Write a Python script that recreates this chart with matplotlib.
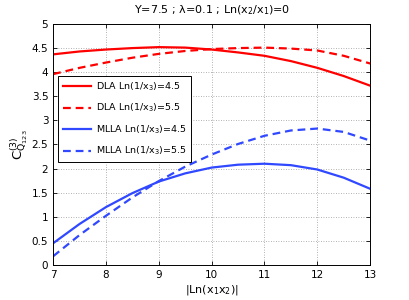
import matplotlib
matplotlib.use("Agg")
import matplotlib.pyplot as plt

x = [7, 7.5, 8, 8.5, 9, 9.5, 10, 10.5, 11, 11.5, 12, 12.5, 13]
dla_45 = [4.37, 4.43, 4.47, 4.50, 4.52, 4.51, 4.47, 4.41, 4.34, 4.23, 4.09, 3.92, 3.72]
dla_55 = [3.96, 4.09, 4.20, 4.30, 4.38, 4.44, 4.48, 4.50, 4.51, 4.49, 4.45, 4.34, 4.18]
mlla_45 = [0.45, 0.85, 1.20, 1.49, 1.73, 1.90, 2.02, 2.08, 2.10, 2.07, 1.98, 1.81, 1.58]
mlla_55 = [0.18, 0.62, 1.02, 1.40, 1.74, 2.04, 2.29, 2.51, 2.68, 2.79, 2.83, 2.76, 2.58]

labels = ["DLA Ln(1/x$_3$)=4.5", "DLA Ln(1/x$_3$)=5.5",
          "MLLA Ln(1/x$_3$)=4.5", "MLLA Ln(1/x$_3$)=5.5"]
xticks = [7, 8, 9, 10, 11, 12, 13]
yticks = [0, 0.5, 1, 1.5, 2, 2.5, 3, 3.5, 4, 4.5, 5]

plt.rcParams['font.family'] = ['DejaVu Sans']
plt.rcParams['mathtext.default'] = 'regular'
fig = plt.figure(figsize=(4.09, 3.0), dpi=100)
ax = fig.add_axes([0.13, 0.117, 0.775, 0.803])

red = '#ff0000'
blue = '#3048ff'
ax.plot(x, dla_45, color=red, lw=1.6, ls='-', label=labels[0])
ax.plot(x, dla_55, color=red, lw=1.6, ls=(0, (3.5, 2.2)), label=labels[1])
ax.plot(x, mlla_45, color=blue, lw=1.6, ls='-', label=labels[2])
ax.plot(x, mlla_55, color=blue, lw=1.6, ls=(0, (3.5, 2.2)), label=labels[3])

ax.set_xlim(7, 13)
ax.set_ylim(0, 5)
ax.set_xticks(xticks)
ax.set_yticks(yticks)
ax.set_yticklabels(['0', '0.5', '1', '1.5', '2', '2.5', '3', '3.5', '4', '4.5', '5'])
ax.tick_params(direction='in', labelsize=7.5, length=3, width=0.6, top=True, right=True)
ax.grid(True, ls=(0, (1, 2)), color='#999999', lw=0.6)
for s in ax.spines.values():
    s.set_linewidth(0.7)

ax.set_title("Y=7.5 ; λ=0.1 ; Ln(x$_2$/x$_1$)=0", fontsize=8, pad=8)
ax.set_xlabel("|Ln(x$_1$x$_2$)|", fontsize=8, labelpad=2)
ax.set_ylabel("C$^{(3)}_{Q_{123}}$", fontsize=9.5, labelpad=1)

leg = ax.legend(loc='upper left', bbox_to_anchor=(0.016, 0.785), fontsize=6.8,
                frameon=True, fancybox=False, edgecolor='black', framealpha=1,
                handlelength=3.0, borderpad=0.5, labelspacing=0.95, handletextpad=0.5,
                borderaxespad=0)
leg.get_frame().set_linewidth(0.7)

fig.savefig("out.png", dpi=100)
